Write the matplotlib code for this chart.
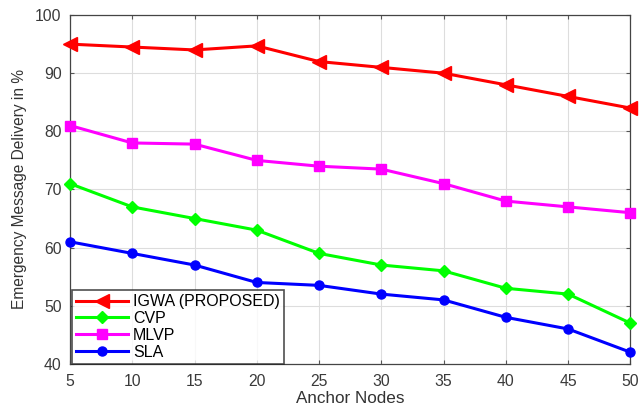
import matplotlib
matplotlib.use("Agg")
import matplotlib.pyplot as plt

plt.rcParams['font.family'] = ['Liberation Sans', 'DejaVu Sans']

anchor_nodes = [5, 10, 15, 20, 25, 30, 35, 40, 45, 50]
igwa = [95, 94.5, 94, 94.7, 92, 91, 90, 88, 86, 84]
cvp = [71, 67, 65, 63, 59, 57, 56, 53, 52, 47]
mlvp = [81, 78, 77.8, 75, 74, 73.5, 71, 68, 67, 66]
sla = [61, 59, 57, 54, 53.5, 52, 51, 48, 46, 42]

fig = plt.figure(figsize=(6.42, 4.07), dpi=100)
ax = fig.add_axes([0.109, 0.106, 0.873, 0.857])

style = dict(linewidth=2.2, clip_on=False, zorder=3)
ax.plot(anchor_nodes, igwa, color='#ff0000', marker='<', markersize=10, label='IGWA (PROPOSED)', **style)
ax.plot(anchor_nodes, cvp, color='#00ff00', marker='D', markersize=6.5, label='CVP', **style)
ax.plot(anchor_nodes, mlvp, color='#ff00ff', marker='s', markersize=6.5, label='MLVP', **style)
ax.plot(anchor_nodes, sla, color='#0000ff', marker='o', markersize=6.5, label='SLA', **style)

ax.set_xlim(5, 50)
ax.set_ylim(40, 100)
ax.set_xticks(anchor_nodes)
ax.set_yticks(range(40, 101, 10))
ax.grid(True, color='#dddddd', linewidth=0.8)
ax.set_axisbelow(True)
ax.tick_params(labelsize=11.3, labelcolor='#3a3a3a', color='#555555',
               direction='in', length=3, top=True, right=True)
ax.tick_params(axis='x', pad=7)
ax.tick_params(axis='y', pad=6)
for s in ax.spines.values():
    s.set_color('#444444')
    s.set_linewidth(0.9)

ax.set_xlabel('Anchor Nodes', fontsize=12.3, color='#333333', labelpad=2)
ax.set_ylabel('Emergency Message Delivery in %', fontsize=11.2, color='#333333', labelpad=6)

leg = ax.legend(loc='lower left', fontsize=11.5, frameon=True, fancybox=False,
                edgecolor='#222222', borderaxespad=0.0, handlelength=3.3,
                borderpad=0.25, labelspacing=0.12, handletextpad=0.3,
                bbox_to_anchor=(0.003, 0.0))
leg.get_frame().set_linewidth(1.2)
leg.set_zorder(5)

fig.savefig('out.png', dpi=100)
